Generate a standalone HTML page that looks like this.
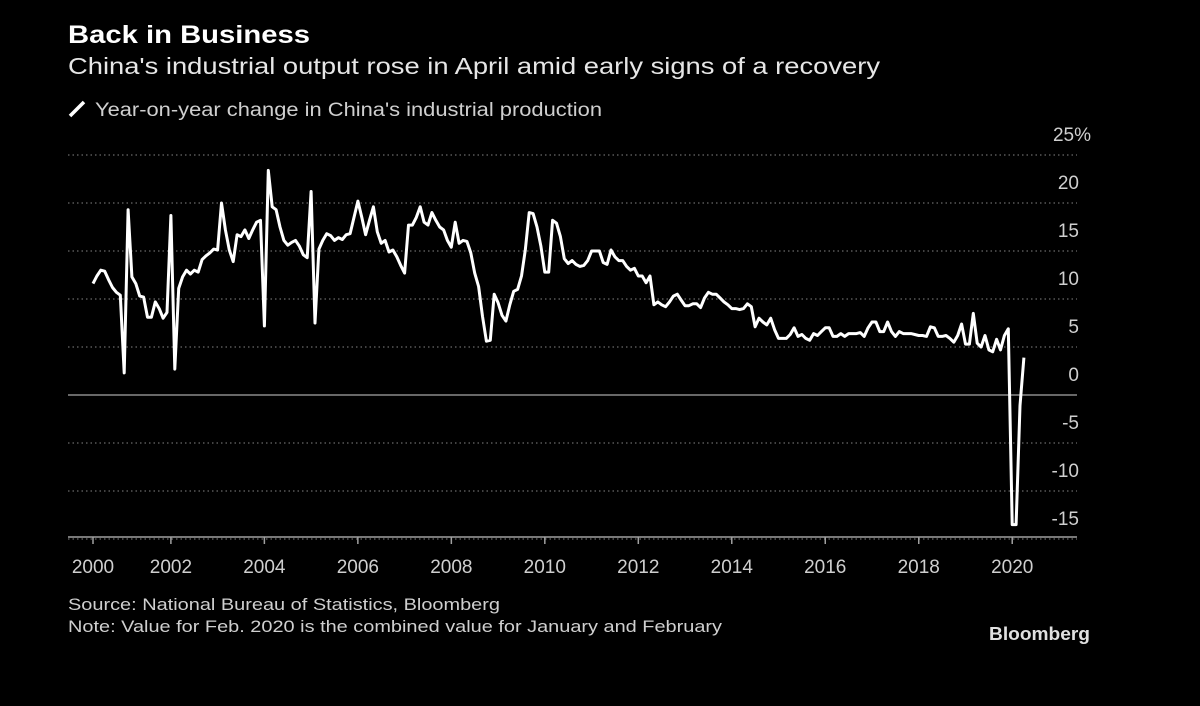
<!DOCTYPE html>
<html><head><meta charset="utf-8"><style>
html,body{margin:0;padding:0;background:#000;}
svg{display:block;font-family:"Liberation Sans",sans-serif;}
</style></head><body>
<svg id="chart" width="1200" height="706" viewBox="0 0 1200 706">
<rect width="1200" height="706" fill="#000"/>
<text x="68" y="43" fill="#fff" font-size="25" font-weight="bold" textLength="242" lengthAdjust="spacingAndGlyphs">Back in Business</text>
<text x="68" y="74" fill="#e6e6e6" font-size="23" textLength="812" lengthAdjust="spacingAndGlyphs">China's industrial output rose in April amid early signs of a recovery</text>
<line x1="70" y1="116" x2="84" y2="102" stroke="#fff" stroke-width="3.5"/>
<text x="95" y="116" fill="#cfcfcf" font-size="19" textLength="507" lengthAdjust="spacingAndGlyphs">Year-on-year change in China's industrial production</text>
<g id="grid"></g>
<g id="yticks"></g>
<g id="xticks"></g>
<path id="series" fill="none" stroke="#fff" stroke-width="3" stroke-linejoin="round"/>
<text x="68" y="610" fill="#cfcfcf" font-size="17" textLength="432" lengthAdjust="spacingAndGlyphs">Source: National Bureau of Statistics, Bloomberg</text>
<text x="68" y="632" fill="#cfcfcf" font-size="17" textLength="654" lengthAdjust="spacingAndGlyphs">Note: Value for Feb. 2020 is the combined value for January and February</text>
<text x="1090" y="640" fill="#e0e0e0" font-size="18" font-weight="bold" text-anchor="end" textLength="101" lengthAdjust="spacingAndGlyphs">Bloomberg</text>
</svg>
<script>
// Year spans of the monthly series: [year, firstMonth, lastMonth]
const yearSpans = [[2000,5,12],[2001,1,12],[2002,1,12],[2003,1,12],[2004,1,12],[2005,1,12],[2006,1,12],[2007,1,12],[2008,1,12],[2009,1,12],[2010,1,12],[2011,1,12],[2012,1,12],[2013,1,12],[2014,1,12],[2015,1,12],[2016,1,12],[2017,1,12],[2018,1,12],[2019,1,12],[2020,1,4]];
const values = [
11.6,12.4,13.0,12.9,12.0,11.2,10.7,10.4,
2.3,19.3,12.3,11.6,10.3,10.2,8.1,8.1,9.7,9.0,8.0,8.6,
18.7,2.7,11.1,12.3,13.0,12.6,13.0,12.8,14.1,14.5,14.8,15.2,
15.1,20.0,17.2,15.1,13.9,16.7,16.5,17.2,16.3,17.2,18.0,18.2,
7.2,23.4,19.6,19.3,17.5,16.1,15.6,15.9,16.1,15.5,14.6,14.3,
21.2,7.5,15.2,16.1,16.8,16.6,16.1,16.4,16.2,16.7,16.8,18.5,
20.2,18.5,16.7,18.2,19.6,17.0,15.8,16.1,14.9,15.1,14.4,13.5,
12.7,17.7,17.7,18.5,19.6,18.0,17.7,19.0,18.2,17.5,17.2,16.1,
15.4,18.0,15.8,16.1,16.0,14.8,12.7,11.3,8.2,5.6,5.7,10.5,
9.6,8.3,7.7,9.4,10.8,11.0,12.4,15.1,19.0,18.9,17.5,15.5,
12.8,12.8,18.2,17.9,16.5,14.2,13.7,14.0,13.6,13.4,13.5,14.0,
15.0,15.0,15.0,13.8,13.6,15.1,14.4,14.0,14.0,13.4,13.0,13.2,
12.4,12.4,11.7,12.4,9.4,9.7,9.4,9.2,9.7,10.3,10.5,9.9,
9.3,9.3,9.5,9.5,9.1,10.1,10.7,10.5,10.5,10.1,9.7,9.4,
9.0,9.0,8.9,9.0,9.5,9.2,7.1,8.0,7.6,7.3,8.0,6.8,
5.9,5.9,5.9,6.3,7.0,6.1,6.3,5.9,5.7,6.4,6.2,6.6,
7.0,7.0,6.1,6.1,6.4,6.1,6.4,6.4,6.4,6.5,6.1,7.0,
7.6,7.6,6.6,6.6,7.6,6.6,6.1,6.6,6.4,6.4,6.4,6.3,
6.2,6.2,6.1,7.1,7.0,6.1,6.1,6.2,5.9,5.5,6.2,7.4,
5.3,5.3,8.5,5.4,5.0,6.2,4.7,4.5,5.8,4.7,6.2,6.9,
-13.5,-13.5,-1.1,3.9
];
const yTickValues = [25,20,15,10,5,0,-5,-10,-15];
const xTickYears = [2000,2002,2004,2006,2008,2010,2012,2014,2016,2018,2020];

const NS = "http://www.w3.org/2000/svg";
const periods = [];
yearSpans.forEach(s => { for (let m = s[1]; m <= s[2]; m++) periods.push([s[0], m]); });
const X0 = 93, STEP = 3.895;
function xScale(i){ return X0 + i * STEP; }
function yScale(v){ return 395 - v * 9.6; }
function mk(tag, attrs, parent){ const e = document.createElementNS(NS, tag); for (const k in attrs) e.setAttribute(k, attrs[k]); parent.appendChild(e); return e; }

const grid = document.getElementById('grid');
const yt = document.getElementById('yticks');
yTickValues.forEach(v => {
  const y = yScale(v);
  const l = mk('line', {x1:68, x2:1077, y1:y, y2:y, stroke: v===0 ? '#8a8a8a' : '#6a6a6a', 'stroke-width': v===0 ? 1.5 : 1.2, 'stroke-dasharray': v===0 ? 'none' : '1.5 3'}, grid);
  
  
  const t = mk('text', {x:1079, y: y - 14, fill:'#cfcfcf', 'font-size':19, 'text-anchor':'end'}, yt);
  t.textContent = String(v);
  if (v === 25) { const p = mk('tspan', {}, t); p.textContent = '%'; t.setAttribute('text-anchor','end'); t.setAttribute('x', 1091); }
  
  
});
const axis = mk('line', {x1:68, x2:1077, y1:537, y2:537, stroke:'#a0a0a0', 'stroke-width':1.5}, grid);



const xt = document.getElementById('xticks');
xTickYears.forEach(yr => {
  const idx = periods.findIndex(p => p[0] === yr);
  if (idx < 0) return;
  const x = xScale(idx);
  const tk = mk('line', {x1:x, x2:x, y1:537, y2:544, stroke:'#a0a0a0', 'stroke-width':1.5}, xt);
  
  
  const t = mk('text', {x:x, y:573, fill:'#cfcfcf', 'font-size':19, 'text-anchor':'middle'}, xt);
  t.textContent = String(yr);
  
  
});

let d = '';
values.forEach((v, i) => { d += (i ? 'L' : 'M') + xScale(i).toFixed(1) + ',' + yScale(v).toFixed(1); });
document.getElementById('series').setAttribute('d', d);
</script>
</body></html>
